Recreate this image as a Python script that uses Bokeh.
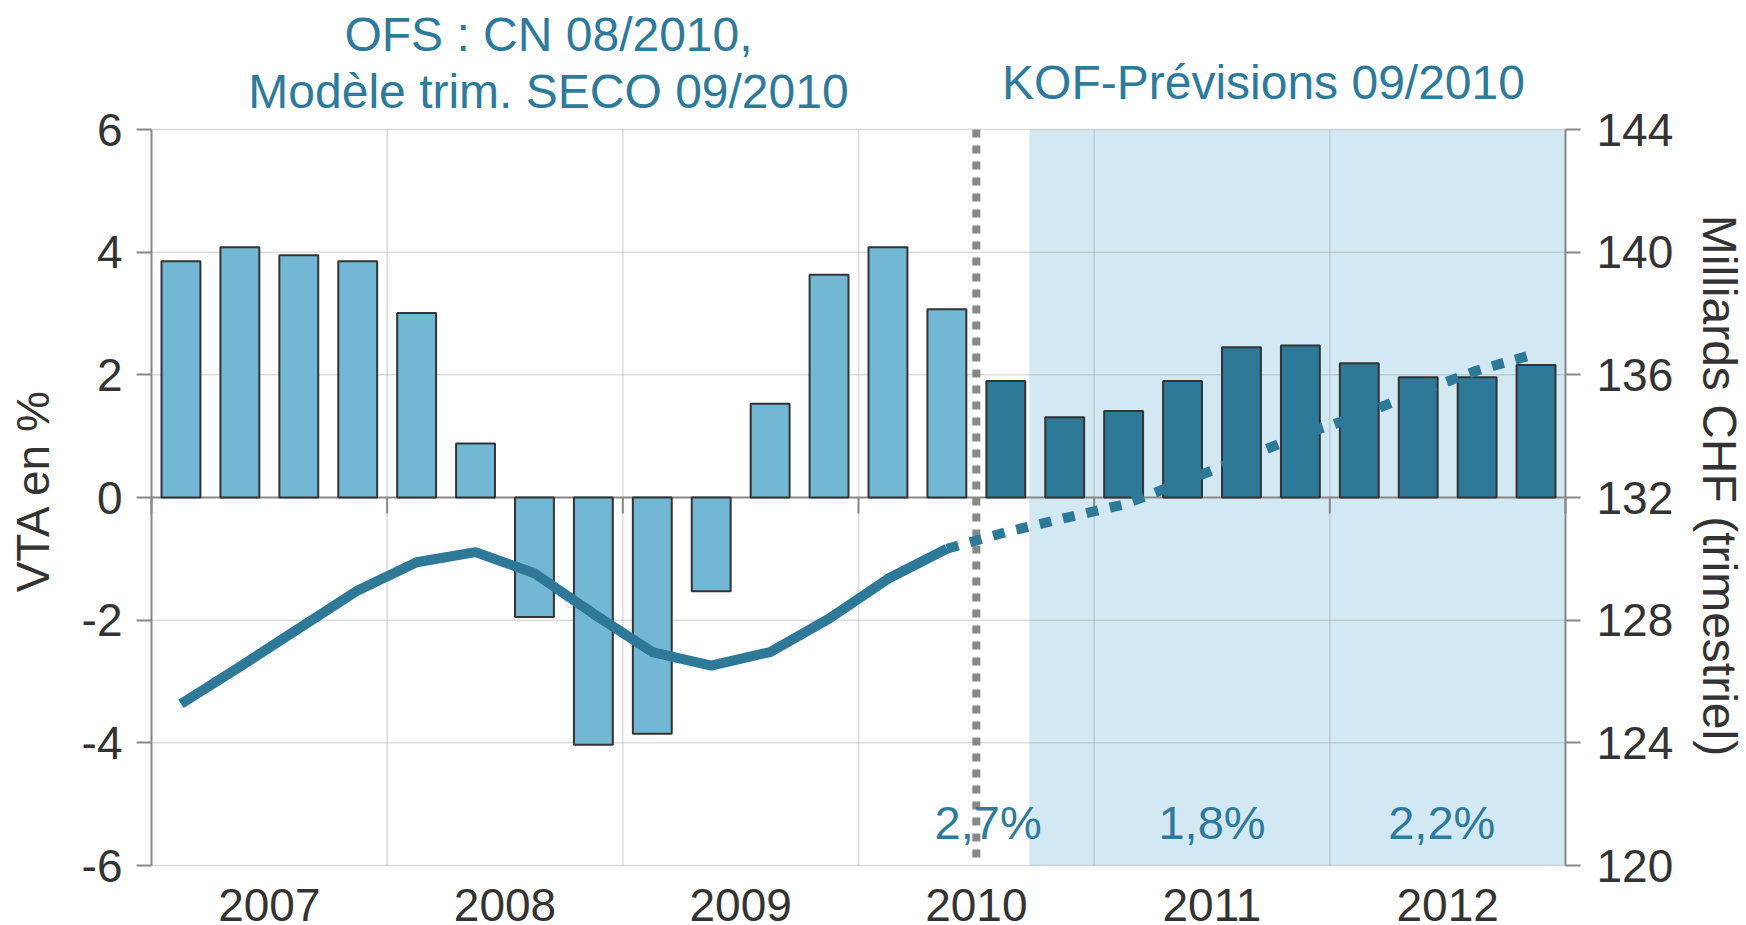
import math
from bokeh.plotting import figure
from bokeh.models import Range1d, LinearAxis, FixedTicker, Label
from bokeh.embed import file_html
from bokeh.resources import INLINE

# ---------------- data ----------------
quarters = ["2007T1", "2007T2", "2007T3", "2007T4",
            "2008T1", "2008T2", "2008T3", "2008T4",
            "2009T1", "2009T2", "2009T3", "2009T4",
            "2010T1", "2010T2", "2010T3", "2010T4",
            "2011T1", "2011T2", "2011T3", "2011T4",
            "2012T1", "2012T2", "2012T3", "2012T4"]
# VTA en % (bars, left axis)
vta = [3.85, 4.08, 3.95, 3.85, 3.01, 0.88, -1.95, -4.03, -3.85, -1.53, 1.53, 3.63,
       4.08, 3.07, 1.90, 1.31, 1.41, 1.90, 2.45, 2.48, 2.19, 1.96, 1.96, 2.16]
# PIB en milliards CHF (line, right axis)
gdp = [125.27, 126.48, 127.73, 128.97, 129.89, 130.22, 129.53, 128.21, 126.96, 126.52,
       126.96, 128.05, 129.35, 130.33, 130.87, 131.33, 131.77, 132.50, 133.26, 134.02,
       134.67, 135.43, 136.14, 136.69]
n_hist = 14            # quarters observed (OFS / SECO)
shade_start = 14.9     # start of KOF forecast band (in quarters)
years = ["2007", "2008", "2009", "2010", "2011", "2012"]
growth_years = ["2010", "2011", "2012"]
growth_labels = ["2,7%", "1,8%", "2,2%"]
left_ticks = [-6, -4, -2, 0, 2, 4, 6]
right_ticks = [120, 124, 128, 132, 136, 140, 144]

# ---------------- styles / layout ----------------
LIGHT = "#72B7D4"
DARK = "#2E7898"
TEAL = "#2E7A9A"
SHADE = "#D2E8F2"
AXIS = "#888888"
GRID = "#9a9a9a"
TXT = "#333333"
FONT = "Liberation Sans"

W, H = 1746, 925
# plot area (pixels) inside the canvas
PL, PR, PT, PB = 151, 1565, 129, 865

n = len(vta)
ymin, ymax = left_ticks[0], left_ticks[-1]
rmin, rmax = right_ticks[0], right_ticks[-1]
px_x = (PR - PL) / n
px_y = (PB - PT) / (ymax - ymin)
x_lo = -PL / px_x
x_hi = n + (W - PR) / px_x
y_hi = ymax + PT / px_y
y_lo = ymin - (H - PB) / px_y
ratio = (rmax - rmin) / (ymax - ymin)
r_lo = rmin + (y_lo - ymin) * ratio
r_hi = rmin + (y_hi - ymin) * ratio

xs = [i + 0.5 for i in range(n)]
colors = [LIGHT if i < n_hist else DARK for i in range(n)]

p = figure(width=W, height=H,
           x_range=Range1d(x_lo, x_hi), y_range=Range1d(y_lo, y_hi),
           output_backend="svg", toolbar_location=None,
           x_axis_location=None, y_axis_location=None, min_border=0)
p.extra_y_ranges = {"right": Range1d(r_lo, r_hi)}
p.outline_line_color = None
p.xgrid.visible = False
p.ygrid.visible = False
p.title.visible = False

# forecast shade
p.quad(left=[shade_start], right=[n], bottom=[ymin], top=[ymax],
       fill_color=SHADE, line_color=None, level="underlay")

# grid lines (bounded to the plot area)
vgrid = [4 * k for k in range(1, len(years))]
hgrid = [t for t in left_ticks if t != 0]
p.segment(x0=vgrid, y0=[ymin] * len(vgrid), x1=vgrid, y1=[ymax] * len(vgrid),
          line_color=GRID, line_alpha=0.35, line_width=1.5, level="underlay")
p.segment(x0=[0] * len(hgrid), y0=hgrid, x1=[n] * len(hgrid), y1=hgrid,
          line_color=GRID, line_alpha=0.35, line_width=1.5, level="underlay")

# vertical split line (end of observed data)
p.segment(x0=[n_hist], y0=[ymax], x1=[n_hist], y1=[ymin],
          line_color=AXIS, line_width=8, line_dash="8 8", level="underlay")

# zero line with year-boundary ticks
bound_ticks = [4 * k for k in range(len(years) + 1)]
tick_len = 16 / px_y
p.segment(x0=[0], y0=[0], x1=[n], y1=[0], line_color=AXIS, line_width=2, level="underlay")
p.segment(x0=bound_ticks, y0=[0] * len(bound_ticks), x1=bound_ticks,
          y1=[-tick_len] * len(bound_ticks), line_color=AXIS, line_width=2, level="underlay")

# axes
def style_y(ax, standoff):
    ax.major_tick_out = 15
    ax.major_tick_in = 0
    ax.minor_tick_line_color = None
    ax.axis_line_color = AXIS
    ax.axis_line_width = 2
    ax.major_tick_line_color = AXIS
    ax.major_tick_line_width = 2
    ax.major_label_text_font = FONT
    ax.major_label_text_font_size = "46px"
    ax.major_label_text_color = TXT
    ax.major_label_standoff = standoff

yl = LinearAxis(ticker=FixedTicker(ticks=left_ticks), fixed_location=0,
                bounds=(ymin, ymax),
                major_label_overrides={t: str(t) for t in left_ticks})
style_y(yl, 14)
p.add_layout(yl, "left")
yr = LinearAxis(y_range_name="right", ticker=FixedTicker(ticks=right_ticks),
                fixed_location=n, bounds=(rmin, rmax))
style_y(yr, 16)
p.add_layout(yr, "right")

year_ticks = [4 * k + 2 for k in range(len(years))]
xb = LinearAxis(ticker=FixedTicker(ticks=year_ticks), fixed_location=ymin,
                major_label_overrides={t: y for t, y in zip(year_ticks, years)})
xb.axis_line_color = None
xb.major_tick_line_color = None
xb.minor_tick_line_color = None
xb.major_tick_out = 0
xb.major_tick_in = 0
xb.major_label_standoff = 23
xb.major_label_text_font = FONT
xb.major_label_text_font_size = "46px"
xb.major_label_text_color = TXT
p.add_layout(xb, "below")

# bars
p.vbar(x=xs, top=vta, width=0.66, fill_color=colors, line_color="#333333", line_width=2)

# GDP level line
p.line(x=xs[:n_hist], y=gdp[:n_hist], y_range_name="right",
       line_color=DARK, line_width=10)
p.line(x=xs[n_hist - 1:], y=gdp[n_hist - 1:], y_range_name="right",
       line_color=DARK, line_width=10, line_dash="12 12")

# texts
def lab(x, y, text, size, color=TEAL, angle=0.0, baseline="alphabetic"):
    p.add_layout(Label(x=x, y=y, text=text, text_align="center", text_baseline=baseline,
                       text_font=FONT, text_font_size=size, text_color=color,
                       angle=angle, angle_units="rad"))

def qx(px):   # pixel column -> quarter coordinate
    return (px - PL) / px_x

def vy(py):   # pixel row -> left-axis value
    return ymax - (py - PT) / px_y

lab(qx(548), vy(34), "OFS : CN 08/2010,", "48px")
lab(qx(548), vy(91), "Modèle trim. SECO 09/2010", "48px")
lab(qx(1263), vy(82), "KOF-Prévisions 09/2010", "48px")
for yr_, g, dx in zip(growth_years, growth_labels, [0.2, 0.0, -0.1]):
    k = years.index(yr_)
    lab(4 * k + 2 + dx, vy(822), g, "47px")
lab(qx(32), vy(490), "VTA en %", "46px", color=TXT, angle=math.pi / 2, baseline="middle")
lab(qx(1719), vy(485), "Milliards CHF (trimestriel)", "48px", color=TXT,
    angle=-math.pi / 2, baseline="middle")

open("out.html", "w").write(file_html(p, INLINE))
